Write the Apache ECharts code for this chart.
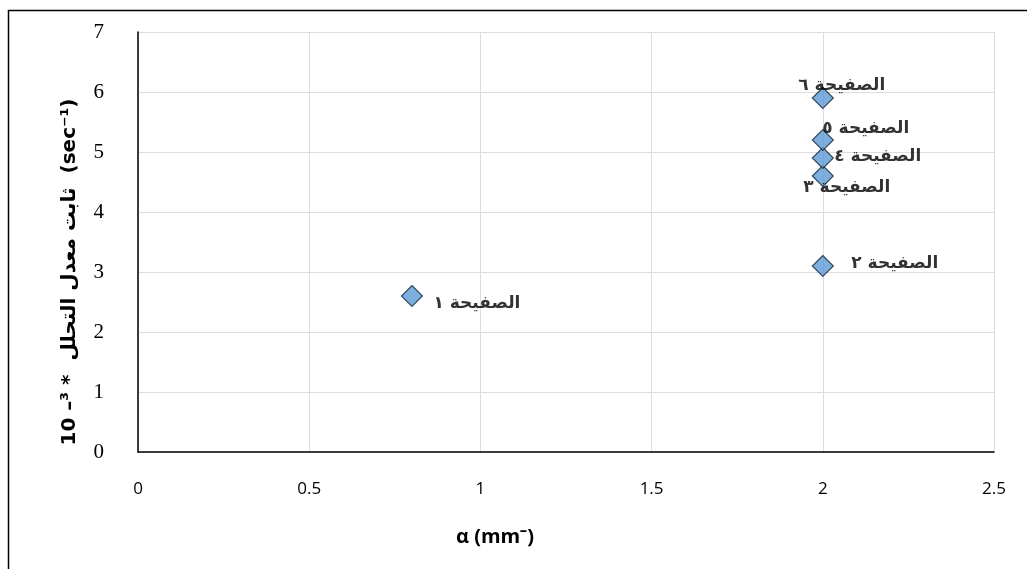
<!DOCTYPE html>
<html>
<head>
<meta charset="utf-8">
<script src="https://cdn.jsdelivr.net/npm/echarts@6/dist/echarts.min.js"></script>
<style>
html,body{margin:0;padding:0;background:#fff;}
#chart{width:1027px;height:569px;}
</style>
</head>
<body>
<div id="chart"></div>
<script>
// ---- data ----
const plateLabels = ['الصفيحة ١', 'الصفيحة ٢', 'الصفيحة ٣', 'الصفيحة ٤', 'الصفيحة ٥', 'الصفيحة ٦'];
const alphaValues = [0.8, 2, 2, 2, 2, 2];
const rateValues = [2.6, 3.1, 4.6, 4.9, 5.2, 5.9];
const xTicks = [0, 0.5, 1, 1.5, 2, 2.5];
const yTicks = [0, 1, 2, 3, 4, 5, 6, 7];
const xTitle = 'α (mm⁻)';
const yTitle = '10 –³ *  ثابت معدل التحلل  (sec⁻¹)';

// label placement (layout only)
const labelOffsets = [[65, 8], [72, -2], [24, 12], [55, -1], [43, -11], [19, -12]];

const chart = echarts.init(document.getElementById('chart'));
const points = alphaValues.map((a, i) => ({
  value: [a, rateValues[i]],
  name: plateLabels[i],
  label: { offset: labelOffsets[i] }
}));

chart.setOption({
  animation: false,
  backgroundColor: '#fff',
  grid: { left: 138, right: 33, top: 32, bottom: 117 },
  xAxis: {
    type: 'value',
    min: xTicks[0], max: xTicks[xTicks.length - 1], interval: 0.5,
    axisLine: { show: true, lineStyle: { color: '#000', width: 1.5 } },
    axisTick: { show: false },
    splitLine: { show: true, lineStyle: { color: '#d9dde4', width: 1 } },
    axisLabel: { color: '#000', fontSize: 17, fontFamily: 'Open Sans, Liberation Sans, sans-serif', margin: 29 }
  },
  yAxis: {
    type: 'value',
    min: yTicks[0], max: yTicks[yTicks.length - 1], interval: 1,
    axisLine: { show: true, lineStyle: { color: '#000', width: 1.5 } },
    axisTick: { show: false },
    splitLine: { show: true, lineStyle: { color: '#d9dde4', width: 1 } },
    axisLabel: { color: '#000', fontSize: 21, fontFamily: 'Liberation Serif, serif', margin: 34 }
  },
  series: [{
    type: 'scatter',
    symbol: 'diamond',
    symbolSize: 21,
    itemStyle: { color: '#5B9BD5', borderColor: '#1c2838', borderWidth: 1.2 },
    label: {
      show: true,
      position: 'inside',
      align: 'center',
      verticalAlign: 'middle',
      formatter: p => p.name,
      color: '#000',
      textBorderWidth: 0,
      fontSize: 17,
      fontWeight: 'bold',
      fontFamily: 'DejaVu Sans, sans-serif'
    },
    data: points,
    z: 3
  }],
  graphic: [
    {
      type: 'rect', silent: true, z: -1,
      shape: { x: 8.5, y: 10.5, width: 1200, height: 700 },
      style: { fill: 'none', stroke: '#000', lineWidth: 1.5 }
    },
    {
      type: 'text', x: 495, y: 537,
      style: { text: xTitle, fill: '#000', font: 'bold 20px Open Sans, Liberation Sans, sans-serif', align: 'center', verticalAlign: 'middle' }
    },
    {
      type: 'text', x: 70, y: 272, rotation: Math.PI / 2,
      style: { text: yTitle, fill: '#000', font: 'bold 20px DejaVu Sans, sans-serif', align: 'center', verticalAlign: 'middle' }
    }
  ]
});
</script>
</body>
</html>
